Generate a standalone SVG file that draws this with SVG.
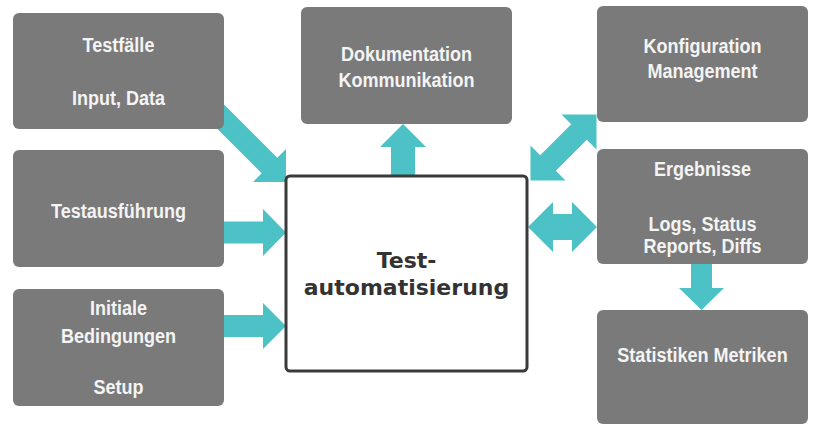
<svg xmlns="http://www.w3.org/2000/svg" width="816" height="425" viewBox="0 0 816 425">
<style>
.bg{fill:#ffffff}
.box{fill:#7a7a7a}
.lbl{fill:#f4f4f4;font-family:"Liberation Sans",Arial,sans-serif;font-weight:bold;font-size:20.5px;text-anchor:middle}
.arrow{fill:#4cc1c6}
.core{fill:#ffffff;stroke:#3a3a3a;stroke-width:3}
.coreTxt{fill:#333333;font-family:"DejaVu Sans",Verdana,sans-serif;font-weight:bold;font-size:22px;text-anchor:middle}
</style>
<rect class="bg" x="0" y="0" width="816" height="425"/>
<g id="connectors">
  <polygon class="arrow" points="204.2,115.8 261.7,173.3 253,182 286,182 286,149 277.3,157.7 219.8,100.2"/>
  <polygon class="arrow" points="220,221.5 263,221.5 263,209 286,232.5 263,256 263,243.5 220,243.5"/>
  <polygon class="arrow" points="220,315 263,315 263,303 286,326 263,349 263,337 220,337"/>
  <polygon class="arrow" points="391,178 391,147 380,147 403,124 426,147 415,147 415,178"/>
  <polygon class="arrow" points="530.5,180.5 530.5,145.5 540.2,155.2 571.2,124.2 561.5,114.5 596.5,114.5 596.5,149.5 586.8,139.8 555.8,170.8 565.5,180.5"/>
  <polygon class="arrow" points="528,227 553,202 553,214 572,214 572,202 597,227 572,252 572,240 553,240 553,252"/>
  <polygon class="arrow" points="691,262 712,262 712,288 724,288 701.5,310 679,288 691,288"/>
</g>
<g id="testfaelle">
  <rect class="box" x="13" y="13" width="211" height="116" rx="6"/>
  <text class="lbl" transform="translate(118.5,52) scale(0.88,1)">Testfälle</text>
  <text class="lbl" transform="translate(118.5,105) scale(0.88,1)">Input, Data</text>
</g>
<g id="testausfuehrung">
  <rect class="box" x="13" y="150" width="211" height="117" rx="6"/>
  <text class="lbl" transform="translate(118.5,218) scale(0.88,1)">Testausführung</text>
</g>
<g id="initiale">
  <rect class="box" x="13" y="289" width="211" height="117" rx="6"/>
  <text class="lbl" transform="translate(118.5,315) scale(0.88,1)">Initiale</text>
  <text class="lbl" transform="translate(118.5,343) scale(0.88,1)">Bedingungen</text>
  <text class="lbl" transform="translate(118.5,394) scale(0.88,1)">Setup</text>
</g>
<g id="dokumentation">
  <rect class="box" x="301" y="7" width="211" height="117" rx="6"/>
  <text class="lbl" transform="translate(406.5,61) scale(0.88,1)">Dokumentation</text>
  <text class="lbl" transform="translate(406.5,87) scale(0.88,1)">Kommunikation</text>
</g>
<g id="konfiguration">
  <rect class="box" x="597" y="6" width="211" height="116" rx="6"/>
  <text class="lbl" transform="translate(702.5,53) scale(0.88,1)">Konfiguration</text>
  <text class="lbl" transform="translate(702.5,78) scale(0.88,1)">Management</text>
</g>
<g id="ergebnisse">
  <rect class="box" x="597" y="149" width="211" height="115" rx="6"/>
  <text class="lbl" transform="translate(702.5,176) scale(0.88,1)">Ergebnisse</text>
  <text class="lbl" transform="translate(702.5,231) scale(0.88,1)">Logs, Status</text>
  <text class="lbl" transform="translate(702.5,253) scale(0.88,1)">Reports, Diffs</text>
</g>
<g id="statistiken">
  <rect class="box" x="597" y="310" width="211" height="114" rx="6"/>
  <text class="lbl" transform="translate(702.5,362) scale(0.88,1)">Statistiken Metriken</text>
</g>
<g id="testautomatisierung">
  <rect class="core" x="286" y="176" width="241" height="195" rx="4"/>
  <text class="coreTxt" x="406.5" y="268">Test-</text>
  <text class="coreTxt" x="406.5" y="295">automatisierung</text>
</g>
</svg>
